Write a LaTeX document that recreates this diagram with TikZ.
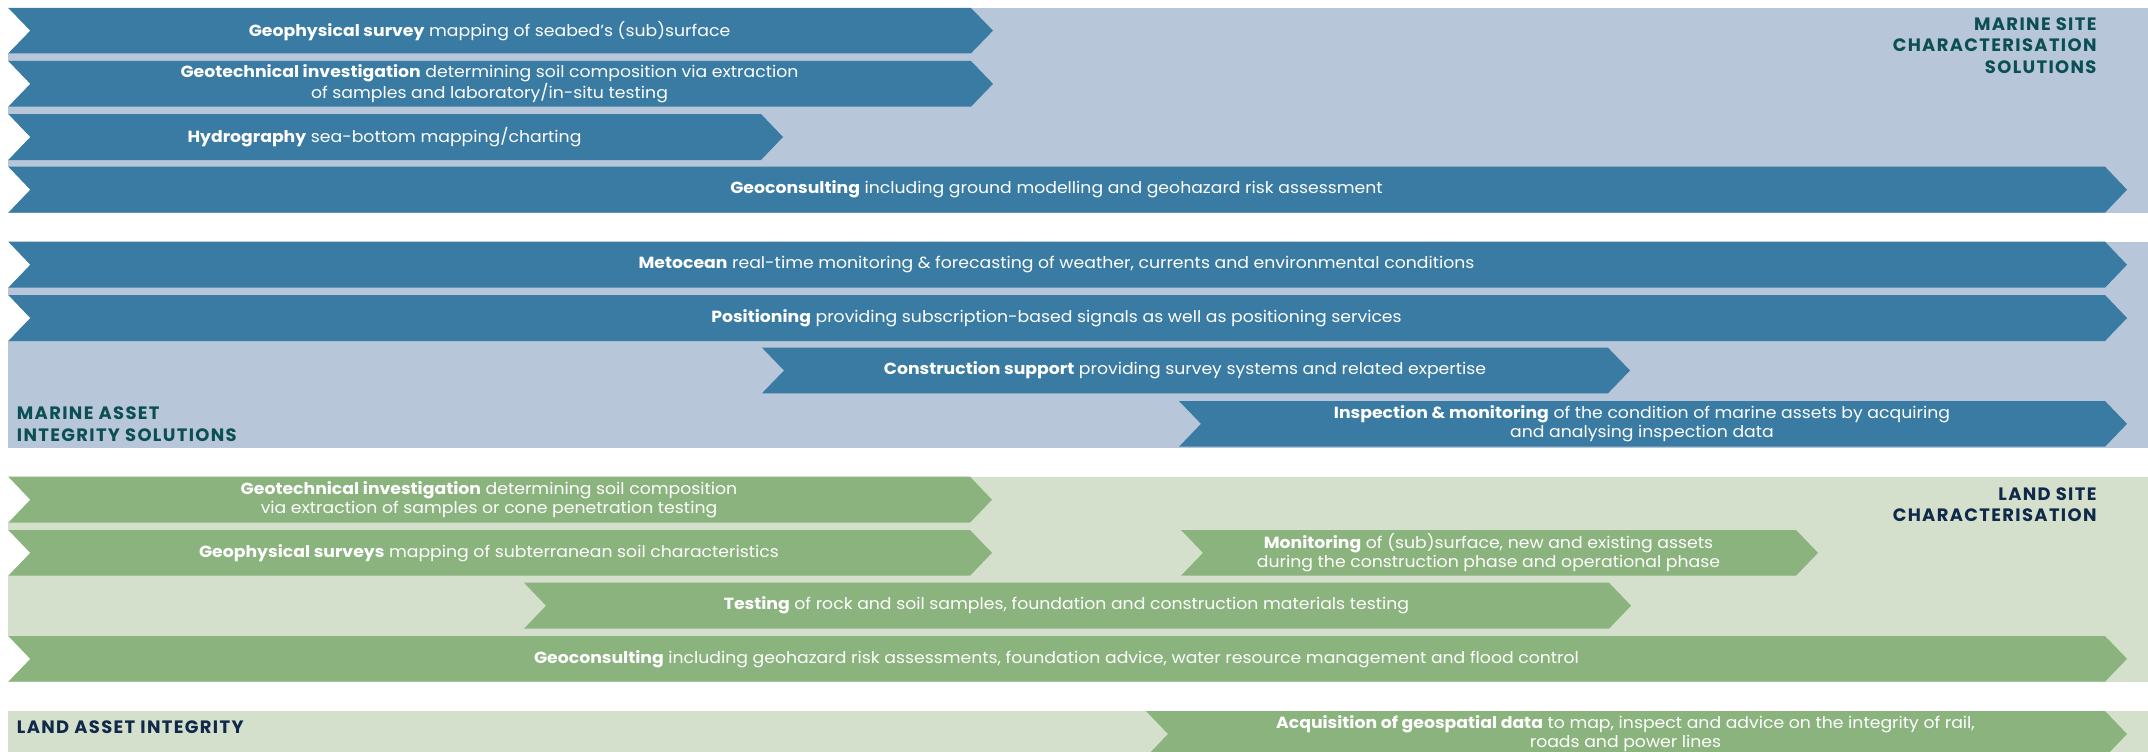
\documentclass[tikz,border=0pt]{standalone}
\usepackage{fontspec}
\setmainfont[FakeStretch=1.07]{Poppins}
\newfontfamily\headfont[LetterSpace=7.5]{Poppins}
\definecolor{mblue}{HTML}{397BA3}
\definecolor{mbg}{HTML}{B7C6D9}
\definecolor{lgreen}{HTML}{8BB37E}
\definecolor{lbg}{HTML}{D4E0CC}
\definecolor{mlabel}{HTML}{0B4F55}
\definecolor{llabel}{HTML}{10294A}
\tikzset{
  chevtext/.style={text=white, align=center, inner sep=0pt, font=\fontsize{16.2}{19}\selectfont},
  mlab/.style={text=mlabel, inner sep=0pt, font=\headfont\bfseries\fontsize{18}{21.7}\selectfont},
  llab/.style={text=llabel, inner sep=0pt, font=\headfont\bfseries\fontsize{18}{21.7}\selectfont},
}
% #1 name, #2 left x, #3 tip x, #4 top y, #5 bottom y, #6 colour, #7 text
\newcommand\chev[7]{%
  \fill[#6] (#2,#4) -- ({#3-22},#4) -- (#3,{(#4+#5)/2}) -- ({#3-22},#5) -- (#2,#5) -- ({#2+22},{(#4+#5)/2}) -- cycle;
  \node[chevtext] (#1) at ({(#2+#3-22)/2},{(#4+#5)/2}) {#7};
}
% left-edge chevron: notch shows white
\newcommand\chevL[6]{%
  \chev{#1}{8}{#2}{#3}{#4}{#5}{#6}
  \fill[white] (8,#3) -- (30,{(#3+#4)/2}) -- (8,#4) -- cycle;
}
\begin{document}
\begin{tikzpicture}[x=1bp,y=-1bp]
\useasboundingbox (0,0) rectangle (2148,752);
\clip (0,0) rectangle (2148,752);
\fill[white] (0,0) rectangle (2148,752);
% backgrounds
\fill[mbg] (8,8) rectangle (2148,212.7);
\fill[mbg] (8,241.7) rectangle (2148,448.3);
\fill[lbg] (8,476.7) rectangle (2148,681.7);
\fill[lbg] (8,711) rectangle (2148,752);
% marine site characterisation
\chevL{c1}{993}{8}{53.3}{mblue}{\textbf{Geophysical survey} mapping of seabed’s (sub)surface}
\chevL{c2}{993}{61}{106.7}{mblue}{\textbf{Geotechnical investigation} determining soil composition via extraction\\of samples and laboratory/in-situ testing}
\chevL{c3}{783}{114}{160}{mblue}{\textbf{Hydrography} sea-bottom mapping/charting}
\chevL{c4}{2127}{166.7}{212.7}{mblue}{\textbf{Geoconsulting} including ground modelling and geohazard risk assessment}
\node[mlab, anchor=base east, align=right] (mst) at (2096.7,73.3) {MARINE SITE\\CHARACTERISATION\\SOLUTIONS};
% marine asset integrity
\chevL{c5}{2127}{241.7}{287.7}{mblue}{\textbf{Metocean} real-time monitoring \& forecasting of weather, currents and environmental conditions}
\chevL{c6}{2127}{295}{341}{mblue}{\textbf{Positioning} providing subscription-based signals as well as positioning services}
\chev{c7}{762}{1630}{347.7}{393.3}{mblue}{\textbf{Construction support} providing survey systems and related expertise}
\chev{c8}{1179}{2127}{401}{446.7}{mblue}{\textbf{Inspection \& monitoring} of the condition of marine assets by acquiring\\and analysing inspection data}
\node[mlab, anchor=base west, align=left] (mai) at (16.7,441) {MARINE ASSET\\INTEGRITY SOLUTIONS};
% land site characterisation
\chevL{c9}{992}{476.7}{522.7}{lgreen}{\textbf{Geotechnical investigation} determining soil composition\\via extraction of samples or cone penetration testing}
\chevL{c10}{992}{530}{575.7}{lgreen}{\textbf{Geophysical surveys} mapping of subterranean soil characteristics}
\chev{c10b}{1181}{1818}{530}{575.7}{lgreen}{\textbf{Monitoring} of (sub)surface, new and existing assets\\during the construction phase and operational phase}
\chev{c11}{524}{1631}{582.7}{628.7}{lgreen}{\textbf{Testing} of rock and soil samples, foundation and construction materials testing}
\chevL{c12}{2127}{636}{681.7}{lgreen}{\textbf{Geoconsulting} including geohazard risk assessments, foundation advice, water resource management and flood control}
\node[llab, anchor=base east, align=right] (lsc) at (2096.7,521.7) {LAND SITE\\CHARACTERISATION};
% land asset integrity
\chev{c13}{1146}{2127}{711}{757}{lgreen}{\textbf{Acquisition of geospatial data} to map, inspect and advice on the integrity of rail,\\roads and power lines}
\node[llab, anchor=base west] (lai) at (16.7,733.3) {LAND ASSET INTEGRITY};
\end{tikzpicture}
\end{document}
